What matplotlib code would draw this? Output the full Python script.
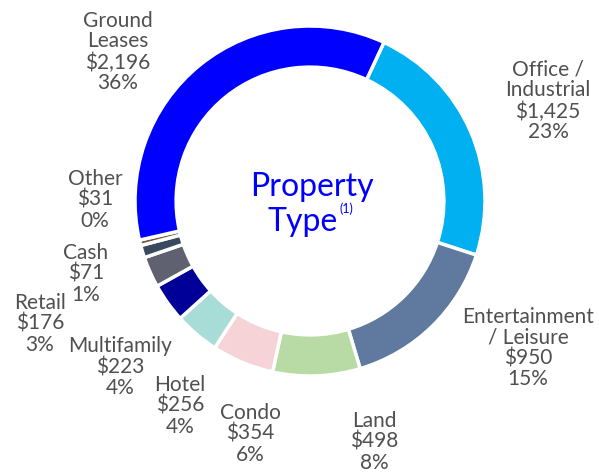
import matplotlib.pyplot as plt

# ── Data ──────────────────────────────────────────────────────────────────────
categories = ["Office /\nIndustrial", "Entertainment\n/ Leisure", "Land", "Condo",
              "Hotel", "Multifamily", "Retail", "Cash", "Other", "Ground\nLeases"]
values     = [1425, 950, 498, 354, 256, 223, 176, 71, 31, 2196]
value_text = ["$1,425", "$950", "$498", "$354", "$256", "$223", "$176", "$71", "$31", "$2,196"]
pct_text   = ["23%", "15%", "8%", "6%", "4%", "4%", "3%", "1%", "0%", "36%"]

colors = ["#00B0F0", "#5F7A9E", "#B8DBA5", "#F5D3D6", "#A8DCD6",
          "#000099", "#5F6070", "#394A5E", "#6B5A3A", "#0000FF"]

# label anchor points in pixel coords of the 599x475 image
label_px = [(548, 101), (528, 348), (374, 442), (250, 434), (180, 406),
            (120, 367), (40, 324), (86, 274), (95, 200), (118, 52)]

W, H = 599, 475
CX, CY, R = 310, 201, 175
TEXT_GREY = "#505050"
FONT = ["Lato", "DejaVu Sans"]

fig = plt.figure(figsize=(W / 100, H / 100), dpi=100)
ax = fig.add_axes([(CX - R) / W, 1 - (CY + R) / H, 2 * R / W, 2 * R / H])

ax.pie(values, colors=colors, startangle=65, counterclock=False, radius=1,
       wedgeprops=dict(width=0.235, edgecolor="white", linewidth=2.5))
ax.set_xlim(-1, 1)
ax.set_ylim(-1, 1)
ax.set_aspect("equal")
ax.axis("off")

# slice labels
for cat, v, p, (px, py) in zip(categories, value_text, pct_text, label_px):
    fig.text(px / W, 1 - py / H, f"{cat}\n{v}\n{p}", ha="center", va="center",
             fontsize=15, color=TEXT_GREY, family=FONT, linespacing=1.05)

# centre title
fig.text(312 / W, 1 - 187 / H, "Property", ha="center", va="center",
         fontsize=23, color="#0000FF", family=FONT)
fig.text(338 / W, 1 - 222 / H, "Type", ha="right", va="center",
         fontsize=23, color="#0000FF", family=FONT)
fig.text(339 / W, 1 - 209 / H, "(1)", ha="left", va="center",
         fontsize=9, color="#0000FF", family=FONT)

fig.savefig("out.png", dpi=100)
